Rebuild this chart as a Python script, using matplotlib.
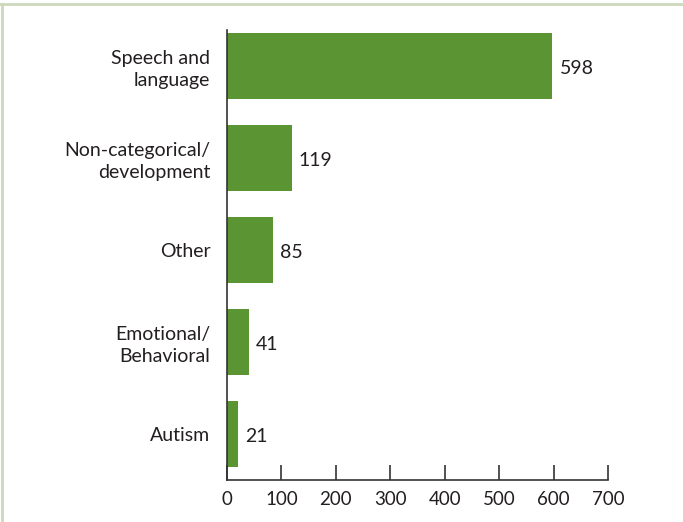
import matplotlib
matplotlib.use("Agg")
import matplotlib.pyplot as plt
from matplotlib.lines import Line2D

categories = ["Speech and\nlanguage", "Non-categorical/\ndevelopment", "Other", "Emotional/\nBehavioral", "Autism"]
values = [598, 119, 85, 41, 21]
xticks = [0, 100, 200, 300, 400, 500, 600, 700]

plt.rcParams['font.family'] = ['Lato', 'DejaVu Sans']

fig = plt.figure(figsize=(6.83, 5.22), dpi=100)
ax = fig.add_axes([227/683, 1-480/522, (608-227)/683, 450/522])

n = len(categories)
ypos = list(range(n - 1, -1, -1))
bar_color = "#5b9433"
ax.barh(ypos, values, height=0.717, color=bar_color)
for y, v in zip(ypos, values):
    ax.annotate(str(v), (v, y), xytext=(5, -2), textcoords="offset points",
                va="center", ha="left", fontsize=14, color="#231f20")

ax.set_xlim(0, 700)
ax.set_ylim(-0.5, n - 1 + 0.39)
ax.set_xticks(xticks)
ax.set_xticklabels([str(t) for t in xticks])
ax.set_yticks(ypos)
ax.set_yticklabels(categories, fontsize=14, color="#231f20", ha="right", linespacing=1.35)
ax.tick_params(axis="y", length=0, pad=12)
ax.tick_params(axis="x", direction="in", length=11, width=1.2, color="#333333",
               labelsize=13.5, labelcolor="#231f20", pad=8)
for s in ["top", "right"]:
    ax.spines[s].set_visible(False)
for s in ["left", "bottom"]:
    ax.spines[s].set_color("#333333")
    ax.spines[s].set_linewidth(1.2)

border = "#cdd8bc"
fig.add_artist(Line2D([0, 1], [1-4/522, 1-4/522], transform=fig.transFigure, color=border, lw=2))
fig.add_artist(Line2D([1.5/683, 1.5/683], [0, 1-4/522], transform=fig.transFigure, color=border, lw=2))

fig.savefig("out.png", dpi=100)
